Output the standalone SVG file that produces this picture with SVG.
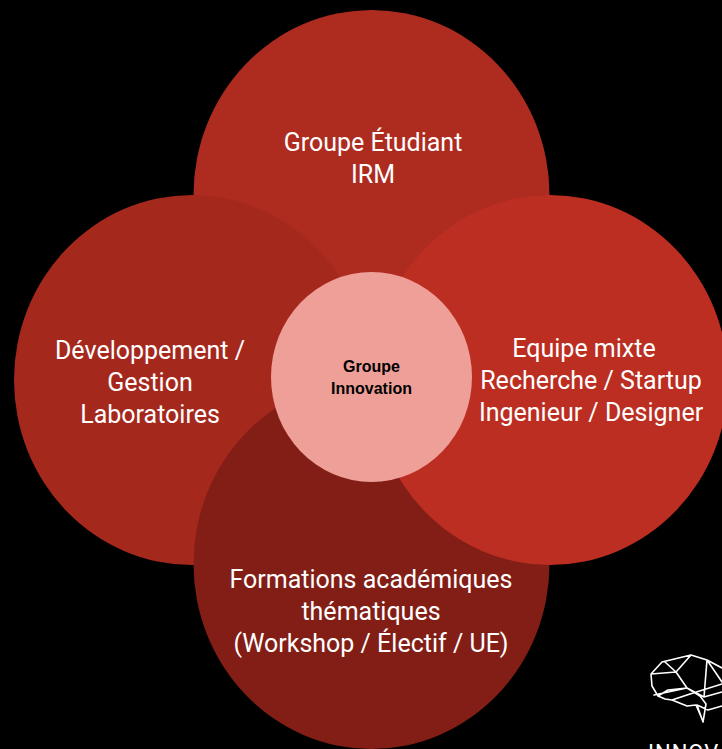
<svg xmlns="http://www.w3.org/2000/svg" width="722" height="749" viewBox="0 0 722 749">
<style>
.t{font-family:Roboto,"Liberation Sans",sans-serif;font-size:25px;fill:#fff;text-anchor:middle}
.c{font-family:"Liberation Sans",Arial,sans-serif;font-size:16px;font-weight:bold;fill:#000;text-anchor:middle}
.b{fill:none;stroke:#fff;stroke-width:1.6;stroke-linejoin:round;stroke-linecap:round}
</style>
<rect width="722" height="749" fill="#000"/>
<g id="node-top"><ellipse cx="371.5" cy="195" rx="178" ry="185" fill="#ae2b20"/>
<text class="t" x="373" y="151">Groupe Étudiant</text><text class="t" x="373" y="183">IRM</text></g>
<g id="node-left"><ellipse cx="192" cy="380" rx="178" ry="185" fill="#a5281d"/>
<text class="t" x="150" y="359">Développement /</text><text class="t" x="150" y="391">Gestion</text><text class="t" x="150" y="423">Laboratoires</text></g>
<g id="node-bottom"><ellipse cx="371.5" cy="564" rx="178" ry="185" fill="#821e16"/>
<text class="t" x="371" y="588">Formations académiques</text><text class="t" x="371" y="620">thématiques</text><text class="t" x="371" y="652">(Workshop / Électif / UE)</text></g>
<g id="node-right"><ellipse cx="550" cy="380" rx="178" ry="185" fill="#bb2e21"/>
<text class="t" x="584" y="357">Equipe mixte</text><text class="t" x="591" y="389">Recherche / Startup</text><text class="t" x="591" y="421">Ingenieur / Designer</text></g>
<g id="node-center"><ellipse cx="371.5" cy="377" rx="100.5" ry="105" fill="#ee9f98"/>
<text class="c" x="371.5" y="372">Groupe</text><text class="c" x="371.5" y="394">Innovation</text></g>
<g id="connectors"></g>
<g id="logo">
<path class="b" d="M651 674L662 662L691 655L707 660L722 668M651 674L652 686L658 696L665 699L672 700M665 662L676 672L691 655M651 674L676 672L687 688L704 697L707 660M676 672L687 688L654 695M658 696L668 690L687 688M672 700L687 706L696 705L702 719L703 722L697 705L708 710L722 706M672 700L690 694L722 684M704 697L722 692M707 660L722 682M703 722L706 704L700 696L687 688"/>
<text x="648" y="760" font-family="Roboto,'Liberation Sans',sans-serif" font-size="22" fill="#fff" letter-spacing="1">INNOV</text>
</g>
</svg>
